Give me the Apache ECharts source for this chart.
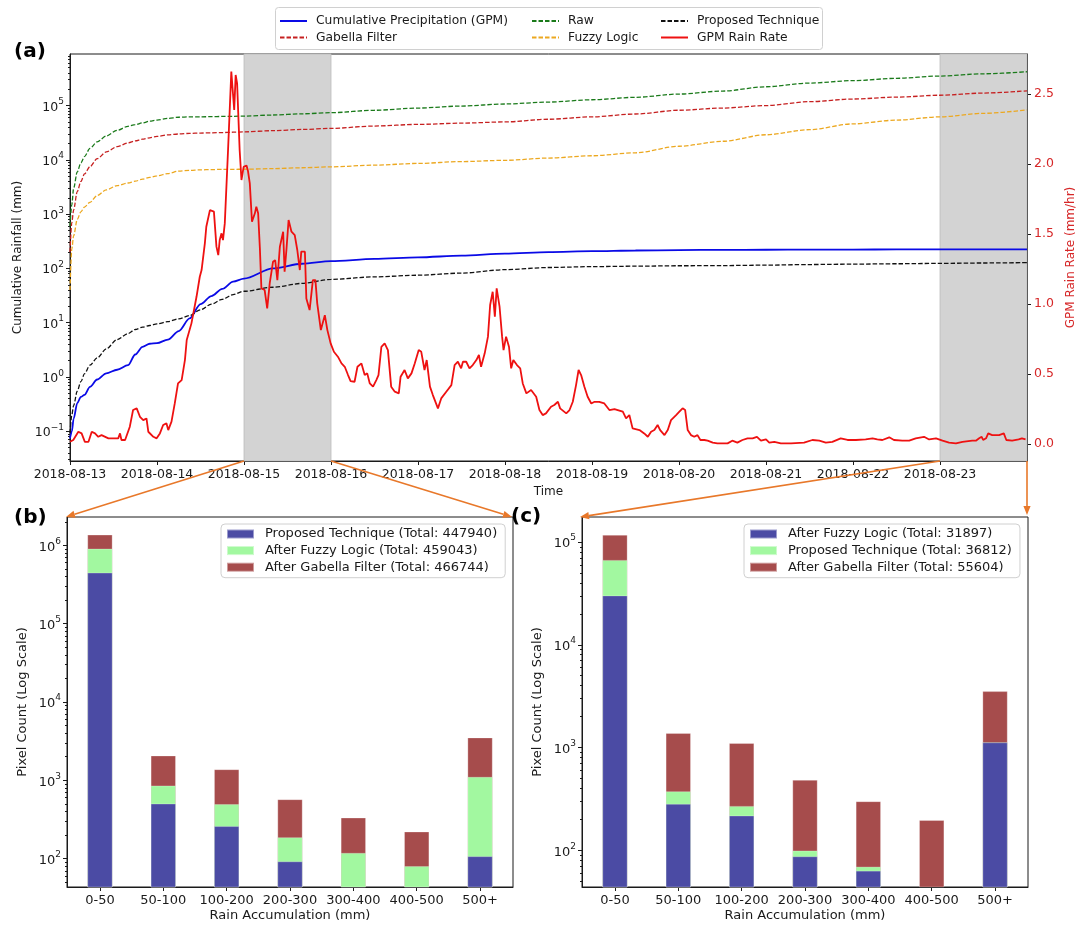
<!DOCTYPE html>
<html>
<head>
<meta charset="utf-8">
<script src="https://cdn.jsdelivr.net/npm/echarts@6/dist/echarts.min.js"></script>
<style>
  html, body { margin: 0; padding: 0; background: #ffffff; }
  #chart { width: 1085px; height: 928px; }
</style>
</head>
<body>
<div id="chart"></div>
<script>
// ---------------- data ----------------
const dayLabels = ['2018-08-13', '2018-08-14', '2018-08-15', '2018-08-16', '2018-08-17', '2018-08-18',
                   '2018-08-19', '2018-08-20', '2018-08-21', '2018-08-22', '2018-08-23'];
// hours since 2018-08-13 00:00 of the two highlighted windows
const highlightSpans = [[48, 72], [240, 264]];

// cumulative rainfall (mm), sampled on a shared hour grid
const cumHours = [0, 0.5, 1, 2, 3, 4, 5.5, 7.5, 10, 13, 16, 18, 20, 22, 24, 27, 30, 33, 36, 39, 42, 45,
                  48, 56, 64, 72, 84, 96, 108, 120, 132, 144, 156, 168, 180, 192, 204, 216, 228, 240, 252, 264];
const gpmCumulative = [0.074, 0.1, 0.17, 0.33, 0.43, 0.47, 0.66, 0.9, 1.17, 1.36, 1.65, 2.6, 3.6, 4.1, 4.2, 4.9,
                       7.0, 12, 22, 31, 42, 57, 65, 100, 122, 136, 150, 160, 172, 188, 200, 208, 214, 218, 220,
                       221, 222, 223, 224, 224, 225, 225];
const rawCumulative = [600, 1500, 3000, 6000, 8800, 11500, 16300, 21500, 27500, 35000, 41500, 44500, 48000,
                       51500, 54000, 58000, 61000, 62000, 62000, 62500, 63000, 63500, 64000, 67000, 70500, 74000,
                       82000, 90000, 98000, 107000, 116000, 128000, 142000, 163000, 185000, 222000, 260000,
                       288000, 318000, 350000, 385000, 420000];
const gabellaCumulative = [200, 700, 1200, 2600, 4000, 5500, 7500, 10500, 14000, 17500, 20500, 22300, 24000,
                           25500, 27000, 28800, 30000, 30800, 31200, 31500, 31800, 32300, 32800, 34500, 36300,
                           38000, 42000, 45000, 47500, 50000, 56000, 62000, 70000, 82000, 90000, 100000, 118000,
                           132000, 143000, 155000, 170000, 187000];
const fuzzyCumulative = [40, 230, 400, 800, 1100, 1350, 1650, 2200, 2800, 3350, 3750, 4050, 4400, 4750, 5050,
                         5600, 6200, 6420, 6550, 6620, 6680, 6700, 6720, 6900, 7150, 7430, 8000, 8600, 9300,
                         9800, 10800, 11900, 13500, 17800, 22000, 29000, 36000, 46000, 54000, 62000, 72000, 83000];
const proposedCumulative = [0.092, 0.2, 0.3, 0.55, 0.82, 1.15, 1.66, 2.25, 3.3, 4.9, 6.3, 7.5, 8.3, 8.9, 9.5,
                            10.5, 11.8, 13.5, 17.3, 22, 27, 33, 38, 45, 53, 63, 70, 75, 82, 95, 104, 108, 110,
                            112, 113, 115, 118, 120, 122, 124, 126, 128];

// GPM rain rate (mm/hr) as [hour, rate]
const rainRate = [
  [0, 0.016], [0.9, 0.029], [2.3, 0.088], [3.2, 0.076], [4.1, 0.016], [5.1, 0.016], [6.0, 0.088], [6.9, 0.076],
  [7.8, 0.052], [8.7, 0.064], [9.2, 0.052], [10.6, 0.041], [13.3, 0.041], [13.8, 0.076], [14.2, 0.029],
  [15.2, 0.029], [16.5, 0.124], [17.4, 0.243], [18.4, 0.255], [19.3, 0.195], [20.2, 0.171], [21.1, 0.183],
  [21.6, 0.088], [23.0, 0.052], [23.9, 0.041], [24.8, 0.076], [25.7, 0.136], [26.6, 0.148], [27.1, 0.100],
  [28.0, 0.160], [28.9, 0.290], [29.8, 0.433], [30.8, 0.457], [31.7, 0.600], [32.2, 0.743], [32.6, 0.755],
  [33.5, 0.862], [34.9, 1.052], [35.8, 1.195], [36.3, 1.243], [37.2, 1.433], [37.6, 1.552], [38.6, 1.671],
  [39.0, 1.676], [39.7, 1.660], [40.4, 1.410], [40.9, 1.350], [41.3, 1.457], [41.8, 1.505], [42.2, 1.457],
  [42.7, 1.576], [43.6, 2.100], [44.5, 2.660], [45.0, 2.670], [45.3, 2.386], [45.7, 2.636], [46.1, 2.576],
  [46.8, 2.100], [47.3, 1.886], [47.9, 1.980], [48.7, 1.990], [49.1, 1.950], [49.6, 1.862],
  [50.2, 1.588], [51.0, 1.648], [51.4, 1.695], [51.9, 1.648], [52.4, 1.386], [52.8, 1.112], [53.7, 1.100],
  [54.4, 0.969], [55.1, 1.150], [56.0, 1.302], [56.6, 1.314], [57.2, 1.171], [57.9, 1.410], [58.8, 1.517],
  [59.2, 1.231], [59.7, 1.386], [60.3, 1.600], [61.1, 1.517], [62.0, 1.493], [62.7, 1.386], [63.4, 1.243],
  [63.8, 1.374], [64.8, 1.374], [65.2, 1.040], [66.1, 0.957], [67.0, 1.171], [67.7, 1.171], [68.2, 1.005],
  [69.2, 0.814], [70.3, 0.921], [71.0, 0.814], [71.9, 0.719], [72.8, 0.659], [73.9, 0.624], [74.9, 0.576],
  [75.8, 0.552], [76.7, 0.493], [77.4, 0.450], [78.5, 0.445], [79.3, 0.552], [80.4, 0.576], [81.3, 0.493],
  [82.0, 0.505], [82.7, 0.433], [83.6, 0.410], [84.5, 0.457], [85.1, 0.493], [85.9, 0.695], [86.8, 0.719],
  [87.7, 0.671], [88.6, 0.410], [89.6, 0.374], [90.7, 0.362], [91.2, 0.481], [92.3, 0.529], [93.2, 0.469],
  [94.2, 0.505], [95.1, 0.576], [96.2, 0.671], [96.9, 0.659], [97.8, 0.529], [98.4, 0.600], [99.3, 0.410],
  [100.1, 0.350], [101.5, 0.255], [102.4, 0.326], [103.8, 0.374], [105.2, 0.421], [106.1, 0.564],
  [107.0, 0.588], [107.9, 0.541], [108.4, 0.588], [109.3, 0.588], [110.2, 0.541], [111.1, 0.564],
  [112.1, 0.600], [112.8, 0.636], [113.4, 0.552], [114.4, 0.648], [115.3, 0.767], [115.9, 0.993],
  [116.6, 1.088], [117.2, 0.910], [117.7, 1.112], [118.5, 0.981], [119.2, 0.767], [119.6, 0.671],
  [120.3, 0.767], [121.1, 0.695], [121.7, 0.541], [122.3, 0.600], [123.3, 0.564], [124.2, 0.541],
  [124.9, 0.433], [125.9, 0.362], [127.2, 0.386], [128.6, 0.338], [129.5, 0.243], [130.4, 0.207],
  [131.3, 0.219], [132.7, 0.267], [133.6, 0.279], [134.6, 0.302], [135.2, 0.255], [136.9, 0.219],
  [137.8, 0.243], [138.7, 0.302], [139.6, 0.421], [140.3, 0.529], [141.0, 0.493], [141.9, 0.410],
  [142.8, 0.338], [143.8, 0.290], [144.7, 0.302], [146.0, 0.302], [147.4, 0.290], [148.8, 0.243],
  [150.2, 0.250], [151.1, 0.243], [151.6, 0.255], [152.5, 0.231], [153.4, 0.183], [154.3, 0.207],
  [155.2, 0.112], [157.1, 0.100], [158.4, 0.076], [159.4, 0.052], [160.3, 0.088], [161.2, 0.100],
  [162.1, 0.136], [162.8, 0.100], [163.2, 0.112], [164.0, 0.064], [164.9, 0.100], [165.8, 0.171],
  [167.2, 0.207], [168.1, 0.231], [169.0, 0.255], [169.7, 0.243], [170.4, 0.100], [171.3, 0.064],
  [172.2, 0.052], [173.1, 0.064], [173.9, 0.029], [175.0, 0.029], [175.9, 0.024], [177.3, 0.010],
  [178.6, 0.005], [181.4, 0.005], [182.7, 0.024], [184.1, 0.010], [185.5, 0.029], [186.9, 0.041],
  [188.3, 0.041], [189.5, 0.052], [190.6, 0.024], [192.0, 0.033], [192.9, 0.010], [194.3, 0.016],
  [196.1, 0.005], [198.9, 0.005], [202.5, 0.010], [204.8, 0.029], [206.7, 0.024], [208.5, 0.010],
  [210.3, 0.016], [212.6, 0.041], [214.5, 0.029], [216.8, 0.029], [219.5, 0.033], [221.4, 0.041],
  [222.7, 0.033], [224.1, 0.029], [226.0, 0.048], [227.3, 0.029], [229.6, 0.024], [231.5, 0.024],
  [233.3, 0.041], [235.6, 0.052], [237.0, 0.033], [238.9, 0.041], [240.7, 0.024], [242.5, 0.010],
  [244.4, 0.005], [246.2, 0.016], [248.9, 0.024], [249.9, 0.024], [250.8, 0.041], [251.5, 0.052],
  [251.9, 0.029], [252.7, 0.041], [253.3, 0.076], [254.4, 0.064], [256.3, 0.064], [257.6, 0.076],
  [258.3, 0.029], [259.9, 0.024], [261.7, 0.033], [262.6, 0.041], [263.6, 0.033]
];
const rateTicks = [0, 0.5, 1.0, 1.5, 2.0, 2.5];

// pixel counts per rain-accumulation bin
const binLabels = ['0-50', '50-100', '100-200', '200-300', '300-400', '400-500', '500+'];
// (b) 2018-08-15 window
const stormProposed = [446979, 503, 259, 92, 0, 0, 107];
const stormFuzzy = [457167, 352, 235, 95, 118, 80, 996];
const stormGabella = [461503, 1210, 886, 384, 215, 141, 2405];
// (c) 2018-08-23 window
const lateFuzzy = [30129, 282, 217, 87, 63, 0, 1119];
const lateProposed = [36650, 92, 52, 12, 6, 0, 0];
const lateGabella = [50551, 1006, 832, 384, 230, 196, 2405];

// ---------------- helpers ----------------
const FONT = 'DejaVu Sans';
const INK = '#1a1a1a';
const RATE_RED = '#d62728';
const ARROW = '#e8782a';
const BAR_BLUE = '#4b4ba4';
const BAR_GREEN = '#a2f8a0';
const BAR_RED = '#a64c4c';

const total = arr => arr.reduce((a, b) => a + b, 0);
const pairs = (xs, ys) => xs.map((x, i) => [x, ys[i]]);

function sup10(v) {
  const e = Math.round(Math.log10(v));
  return '{b|10}{s|' + (e < 0 ? '\u2212' + (-e) : e) + '}';
}
function powerRich(size) {
  return {
    b: { fontFamily: FONT, fontSize: size, color: INK, lineHeight: size + 4, verticalAlign: 'bottom' },
    s: { fontFamily: FONT, fontSize: Math.round(size * 0.7), color: INK, lineHeight: size + 4, verticalAlign: 'top' }
  };
}
function logMajors(lo, hi) {
  const out = [];
  for (let k = Math.ceil(Math.log10(lo)); k <= Math.floor(Math.log10(hi)); k++) out.push(Math.pow(10, k));
  return out;
}
function logMinors(lo, hi) {
  const out = [];
  for (let k = Math.floor(Math.log10(lo)); k <= Math.ceil(Math.log10(hi)); k++) {
    for (let m = 2; m <= 9; m++) {
      const v = m * Math.pow(10, k);
      if (v > lo && v < hi) out.push(v);
    }
  }
  return out;
}
// cumulative tops for bars stacked bottom -> top
function stackTops(layers) {
  let run = layers[0].map(() => 0);
  return layers.map(layer => {
    run = run.map((r, i) => r + layer[i]);
    return run.map(v => (v > 0 ? v : null));
  });
}

// ---------------- axis ranges ----------------
const aMin = Math.pow(10, -1.547), aMax = Math.pow(10, 5.95);
const rateMin = -0.121, rateMax = 2.786;
const bMin = Math.pow(10, 1.638), bMax = Math.pow(10, 6.362);
const cMin = Math.pow(10, 1.642), cMax = Math.pow(10, 5.244);
const binMin = -0.52, binMax = binLabels.length - 1 + 0.52;
const binTicks = binLabels.map((_, i) => i);
const tickHours = dayLabels.map((_, i) => i * 24);

const baseText = { fontFamily: FONT, color: INK };

function logAxis(grid, lo, hi, size, name, gap) {
  return {
    type: 'log', gridIndex: grid, min: lo, max: hi, position: 'left',
    axisLine: { show: true, onZero: false, lineStyle: { color: INK, width: 1 } },
    axisTick: { show: true, customValues: logMajors(lo, hi), length: 4, lineStyle: { color: INK } },
    axisLabel: { customValues: logMajors(lo, hi), formatter: sup10, rich: powerRich(size), margin: 6 },
    splitLine: { show: false },
    name: name, nameLocation: 'middle', nameGap: gap, nameRotate: 90,
    nameTextStyle: Object.assign({ fontSize: size === 12.5 ? 12 : 13 }, baseText)
  };
}
function minorAxis(grid, lo, hi) {
  return {
    type: 'log', gridIndex: grid, min: lo, max: hi, position: 'left',
    axisLine: { show: false, onZero: false },
    axisTick: { show: true, customValues: logMinors(lo, hi), length: 2, lineStyle: { color: INK } },
    axisLabel: { show: false }, splitLine: { show: false }
  };
}
function binAxis(grid) {
  return {
    type: 'value', gridIndex: grid, min: binMin, max: binMax,
    axisLine: { show: true, onZero: false, lineStyle: { color: INK } },
    axisTick: { show: true, customValues: binTicks, length: 4, lineStyle: { color: INK } },
    axisLabel: Object.assign({ customValues: binTicks, formatter: v => binLabels[Math.round(v)], fontSize: 13, margin: 7 }, baseText),
    splitLine: { show: false },
    name: 'Rain Accumulation (mm)', nameLocation: 'middle', nameGap: 22,
    nameTextStyle: Object.assign({ fontSize: 13 }, baseText)
  };
}

function cumLine(name, values, color, dashed, width) {
  return {
    type: 'line', name: name, xAxisIndex: 0, yAxisIndex: 0,
    data: pairs(cumHours, values),
    symbol: 'none', showSymbol: false, smooth: 0.3, smoothMonotone: 'x',
    lineStyle: { color: color, width: width, type: dashed ? [4.5, 2] : 'solid' },
    itemStyle: { color: color }, z: 3, silent: true, animation: false
  };
}

function barSeries(name, tops, color, xi, yi, z) {
  return {
    type: 'bar', name: name, xAxisIndex: xi, yAxisIndex: yi,
    data: tops.map((v, i) => [i, v]),
    barWidth: 25, barGap: '-100%', clip: true, z: z,
    itemStyle: { color: color, borderColor: 'rgba(255,255,255,0.45)', borderWidth: 0.6 },
    silent: true, animation: false
  };
}

// ---------------- panel (b), (c) stacks ----------------
const bNames = [
  'Proposed Technique (Total: ' + total(stormProposed) + ')',
  'After Fuzzy Logic (Total: ' + total(stormFuzzy) + ')',
  'After Gabella Filter (Total: ' + total(stormGabella) + ')'
];
const bTops = stackTops([stormProposed, stormFuzzy, stormGabella]);
const cNames = [
  'After Fuzzy Logic (Total: ' + total(lateFuzzy) + ')',
  'Proposed Technique (Total: ' + total(lateProposed) + ')',
  'After Gabella Filter (Total: ' + total(lateGabella) + ')'
];
const cTops = stackTops([lateFuzzy, lateProposed, lateGabella]);

// line-only legend keys
const legendCommon = {
  orient: 'vertical', selectedMode: false, itemWidth: 27, itemHeight: 12, itemGap: 4.5, padding: 0,
  itemStyle: { opacity: 0, borderWidth: 0 },
  textStyle: Object.assign({ fontSize: 12.3, padding: [0, 0, 0, 4] }, baseText)
};
const barLegend = {
  orient: 'vertical', selectedMode: false, icon: 'rect', itemWidth: 27, itemHeight: 9, itemGap: 3.6,
  borderColor: '#d0d0d0', borderWidth: 1, borderRadius: 4, padding: [3.5, 8, 4, 5],
  backgroundColor: 'rgba(255,255,255,0.85)',
  textStyle: Object.assign({ fontSize: 13, padding: [0, 0, 0, 6] }, baseText)
};

const option = {
  animation: false,
  backgroundColor: '#ffffff',
  grid: [
    { left: 70, top: 54, width: 957, height: 407, show: true, borderColor: INK, borderWidth: 1, backgroundColor: 'transparent', outerBoundsMode: 'none' },
    { left: 67, top: 517, width: 446, height: 370, show: true, borderColor: INK, borderWidth: 1, backgroundColor: 'transparent', outerBoundsMode: 'none' },
    { left: 582, top: 517, width: 446, height: 370, show: true, borderColor: INK, borderWidth: 1, backgroundColor: 'transparent', outerBoundsMode: 'none' }
  ],
  xAxis: [
    {
      type: 'value', gridIndex: 0, min: 0, max: 24 * dayLabels.length,
      axisLine: { show: true, onZero: false, lineStyle: { color: INK } },
      axisTick: { show: true, customValues: tickHours, length: 4, lineStyle: { color: INK } },
      axisLabel: Object.assign({ customValues: tickHours, formatter: v => dayLabels[Math.round(v / 24)], fontSize: 12.5, margin: 7 }, baseText),
      splitLine: { show: false },
      name: 'Time', nameLocation: 'middle', nameGap: 25,
      nameTextStyle: Object.assign({ fontSize: 12 }, baseText)
    },
    binAxis(1),
    binAxis(2)
  ],
  yAxis: [
    logAxis(0, aMin, aMax, 12.5, 'Cumulative Rainfall (mm)', 38),
    {
      type: 'value', gridIndex: 0, position: 'right', min: rateMin, max: rateMax,
      axisLine: { show: true, onZero: false, lineStyle: { color: INK } },
      axisTick: { show: true, customValues: rateTicks, length: 4, lineStyle: { color: INK } },
      axisLabel: { customValues: rateTicks, formatter: v => v.toFixed(1), fontFamily: FONT, fontSize: 12.5, color: RATE_RED, margin: 7 },
      splitLine: { show: false },
      name: 'GPM Rain Rate (mm/hr)', nameLocation: 'middle', nameGap: 30, nameRotate: 90,
      nameTextStyle: { fontFamily: FONT, fontSize: 12, color: RATE_RED }
    },
    minorAxis(0, aMin, aMax),
    logAxis(1, bMin, bMax, 13, 'Pixel Count (Log Scale)', 38),
    minorAxis(1, bMin, bMax),
    logAxis(2, cMin, cMax, 13, 'Pixel Count (Log Scale)', 38),
    minorAxis(2, cMin, cMax)
  ],
  legend: [
    Object.assign({ data: ['Cumulative Precipitation (GPM)', 'Gabella Filter'], left: 279, top: 15 }, legendCommon),
    Object.assign({ data: ['Raw', 'Fuzzy Logic'], left: 531, top: 15 }, legendCommon),
    Object.assign({ data: ['Proposed Technique', 'GPM Rain Rate'], left: 660, top: 15 }, legendCommon),
    Object.assign({ data: bNames, left: 221, top: 524 }, barLegend),
    Object.assign({ data: cNames, left: 744, top: 524 }, barLegend)
  ],
  series: [
    {
      type: 'line', name: 'window', xAxisIndex: 0, yAxisIndex: 1, data: [], z: 1, silent: true,
      markArea: {
        silent: true,
        itemStyle: { color: '#d3d3d3', borderColor: '#bcbcbc', borderWidth: 0.8 },
        data: highlightSpans.map(s => [{ xAxis: s[0] }, { xAxis: s[1] }])
      }
    },
    cumLine('Cumulative Precipitation (GPM)', gpmCumulative, '#0a0ae6', false, 1.8),
    cumLine('Raw', rawCumulative, '#1a7a1a', true, 1.3),
    cumLine('Gabella Filter', gabellaCumulative, '#c62020', true, 1.3),
    cumLine('Fuzzy Logic', fuzzyCumulative, '#eca820', true, 1.3),
    cumLine('Proposed Technique', proposedCumulative, '#111111', true, 1.3),
    {
      type: 'line', name: 'GPM Rain Rate', xAxisIndex: 0, yAxisIndex: 1, data: rainRate,
      symbol: 'none', showSymbol: false, smooth: false,
      lineStyle: { color: '#ee1111', width: 1.8 }, itemStyle: { color: '#ee1111' },
      z: 4, silent: true
    },
    // (b): tallest layer first so lower layers paint over it
    barSeries(bNames[2], bTops[2], BAR_RED, 1, 3, 2),
    barSeries(bNames[1], bTops[1], BAR_GREEN, 1, 3, 3),
    barSeries(bNames[0], bTops[0], BAR_BLUE, 1, 3, 4),
    // (c)
    barSeries(cNames[2], cTops[2], BAR_RED, 2, 5, 2),
    barSeries(cNames[1], cTops[1], BAR_GREEN, 2, 5, 3),
    barSeries(cNames[0], cTops[0], BAR_BLUE, 2, 5, 4)
  ]
};

const chart = echarts.init(document.getElementById('chart'), null, { renderer: 'canvas', width: 1085, height: 928 });
chart.setOption(option);

// ---------------- annotations: panel letters, legend frame, zoom arrows ----------------
function arrow(from, to) {
  const ang = Math.atan2(to[1] - from[1], to[0] - from[0]);
  const L = 9, W = 3.6;
  const bx = to[0] - L * Math.cos(ang), by = to[1] - L * Math.sin(ang);
  const nx = -Math.sin(ang), ny = Math.cos(ang);
  return [
    { type: 'line', silent: true, z: 100, shape: { x1: from[0], y1: from[1], x2: bx, y2: by }, style: { stroke: ARROW, lineWidth: 1.6 } },
    { type: 'polygon', silent: true, z: 100, shape: { points: [[to[0], to[1]], [bx + nx * W, by + ny * W], [bx - nx * W, by - ny * W]] }, style: { fill: ARROW } }
  ];
}
const px = (finder, v) => chart.convertToPixel(finder, v);
const aFinder = { xAxisIndex: 0, yAxisIndex: 0 };
const bFinder = { xAxisIndex: 1, yAxisIndex: 3 };
const cFinder = { xAxisIndex: 2, yAxisIndex: 5 };
const bTL = px(bFinder, [binMin, bMax]), bTR = px(bFinder, [binMax, bMax]);
const cTL = px(cFinder, [binMin, cMax]), cTR = px(cFinder, [binMax, cMax]);
const s0 = px(aFinder, [highlightSpans[0][0], aMin]), s1 = px(aFinder, [highlightSpans[0][1], aMin]);
const t0 = px(aFinder, [highlightSpans[1][0], aMin]), t1 = px(aFinder, [highlightSpans[1][1], aMin]);

const letter = (txt, x, y) => ({
  type: 'text', silent: true, z: 100, x: x, y: y,
  style: { text: txt, fontFamily: FONT, fontSize: 20, fontWeight: 'bold', fill: '#000', textVerticalAlign: 'middle' }
});

chart.setOption({
  graphic: [
    { type: 'rect', silent: true, z: 0, shape: { x: 275.5, y: 7.5, width: 547, height: 42, r: 3 },
      style: { fill: 'rgba(255,255,255,0.85)', stroke: '#d0d0d0', lineWidth: 1 } },
    letter('(a)', 14, 52),
    letter('(b)', 14, 518),
    letter('(c)', 511, 517)
  ].concat(
    arrow(s0, [bTL[0] - 1, bTL[1]]),
    arrow(s1, [bTR[0] - 1, bTR[1]]),
    arrow(t0, [cTL[0] - 2, cTL[1]]),
    arrow(t1, [cTR[0] - 1, cTR[1] - 2])
  )
});
</script>
</body>
</html>
